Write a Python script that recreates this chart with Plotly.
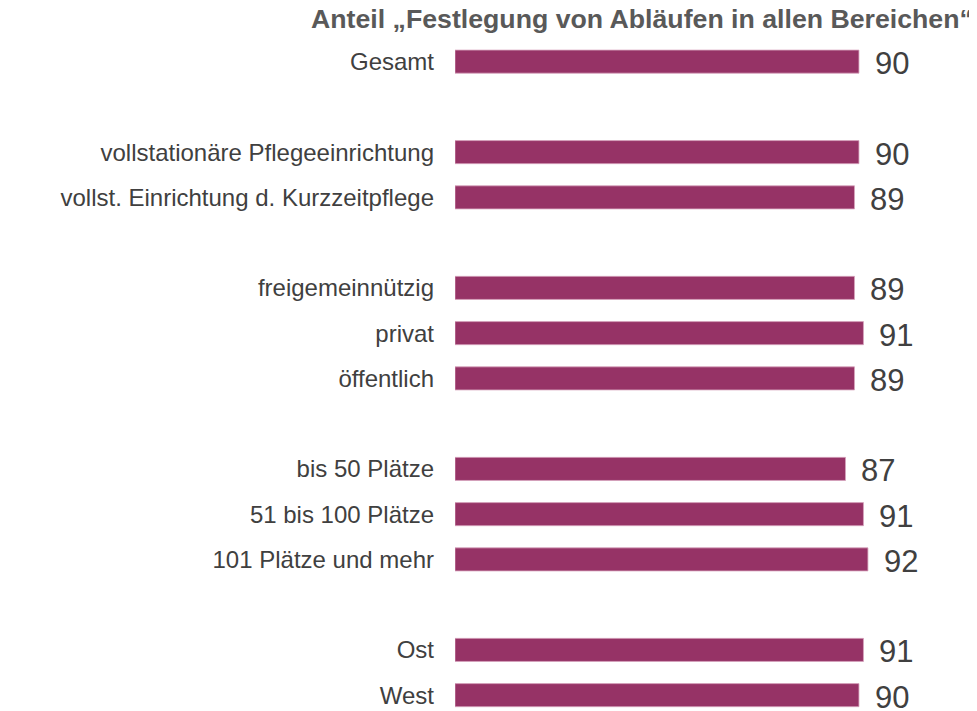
import plotly.graph_objects as go

# Daten: Gruppen von Kategorien mit Werten (Anteil in %)
gruppen_labels = [
    ["Gesamt"],
    ["vollstationäre Pflegeeinrichtung", "vollst. Einrichtung d. Kurzzeitpflege"],
    ["freigemeinnützig", "privat", "öffentlich"],
    ["bis 50 Plätze", "51 bis 100 Plätze", "101 Plätze und mehr"],
    ["Ost", "West"],
]
gruppen_werte = [
    [90],
    [90, 89],
    [89, 91, 89],
    [87, 91, 92],
    [91, 90],
]
titel = "Anteil „Festlegung von Abläufen in allen Bereichen“"

# Zeilenpositionen: eine Leerzeile zwischen den Gruppen
labels, werte, zeilen = [], [], []
pos = 0
for lab, val in zip(gruppen_labels, gruppen_werte):
    for l, v in zip(lab, val):
        labels.append(l)
        werte.append(v)
        zeilen.append(pos)
        pos += 1
    pos += 1

BAR_COLOR = "#963366"
TEXT_COLOR = "#404040"

# Seite hat 8 px Rand -> Figur etwas kleiner
W, H = 969, 703

fig = go.Figure()
fig.add_trace(go.Bar(
    x=werte,
    y=zeilen,
    orientation="h",
    width=0.51,
    marker=dict(color=BAR_COLOR, line=dict(color="#d7a3bd", width=0.8)),
    hoverinfo="skip",
))

# Wertebeschriftung rechts neben den Balken
for v, z in zip(werte, zeilen):
    fig.add_annotation(
        x=v, y=z, text=str(v), showarrow=False,
        xanchor="left", yanchor="middle", xshift=14, yshift=-2,
        font=dict(size=31, color=TEXT_COLOR, family="Liberation Sans, Arial"),
    )

# Titel oben rechts
fig.add_annotation(
    text="<b>" + titel + "</b>", xref="paper", yref="paper",
    x=1, y=(H - 11) / 672, xanchor="right", yanchor="middle", xshift=-2,
    showarrow=False,
    font=dict(size=26.7, color="#595959", family="Liberation Sans, Arial"),
)

fig.update_layout(
    width=W, height=H,
    margin=dict(l=447, r=0, t=31, b=0),
    plot_bgcolor="white", paper_bgcolor="white",
    showlegend=False,
    xaxis=dict(range=[0, 116.3], visible=False),
    yaxis=dict(
        range=[14.35, -0.5],
        tickmode="array", tickvals=zeilen, ticktext=labels,
        showgrid=False, zeroline=False, showline=False,
        ticks="", ticklabelstandoff=20,
        tickfont=dict(size=24, color=TEXT_COLOR, family="Liberation Sans, Arial"),
    ),
)

fig.write_html("out.html")
